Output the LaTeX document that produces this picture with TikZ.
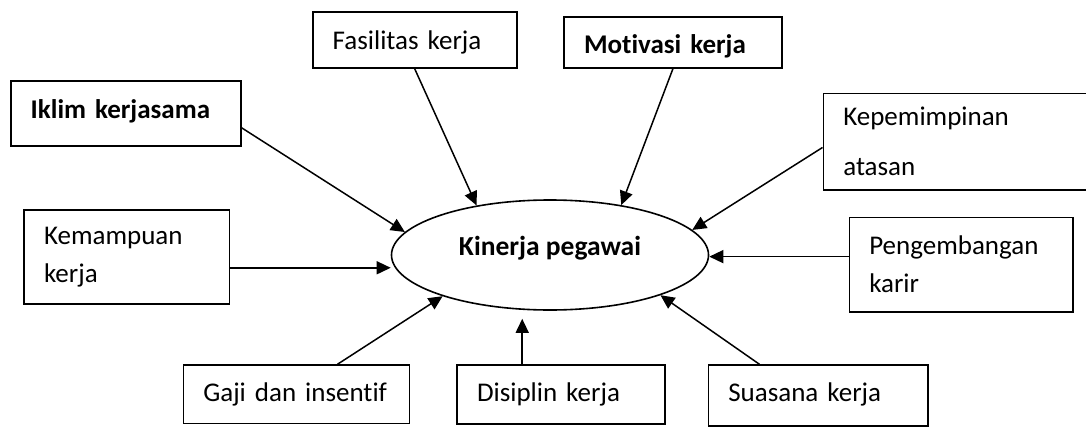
\documentclass[tikz,border=0pt]{standalone}
\usepackage{fontspec}
\setmainfont{Carlito}[Ligatures=NoCommon]
\usetikzlibrary{arrows.meta, shapes.geometric}

\begin{document}
\begin{tikzpicture}[
    x=1pt, y=-1pt,
    >={Triangle[length=14pt, width=13pt]},
    box/.style={
        draw, line width=1.6pt, inner xsep=20pt, inner ysep=0pt,
        align=left, font=\fontsize{27}{38}\selectfont
    },
    onebox/.style={box, text height=20pt, text depth=5pt},
    goal/.style={
        draw, ellipse, line width=1.6pt, inner sep=0pt,
        minimum width=317pt, minimum height=110pt,
        font=\fontsize{27.5}{30}\selectfont\bfseries,
        text height=6pt, text depth=6pt
    },
    link/.style={->, line width=1.5pt},
]
\useasboundingbox (0,0) rectangle (1086,428);

% ============================================
% Centre
% ============================================
\node[goal] (kinerja) at (550,255) {Kinerja pegawai};

% ============================================
% Factors (top row and sides)
% ============================================
\node[onebox, text height=25pt, minimum width=204pt, minimum height=56pt, text width=164pt] (fasilitas) at (414.7,40) {Fasilitas kerja};
\node[onebox, text height=26pt, minimum width=217.7pt, minimum height=51pt, text width=177.7pt] (motivasi) at (672.9,42.5) {\textbf{Motivasi kerja}};
\node[onebox, text height=14pt, minimum width=230pt, minimum height=65pt, text width=190pt] (iklim) at (125.7,113.5) {\textbf{Iklim kerjasama}};
\node[box, minimum width=205.3pt, minimum height=93.7pt, text width=165.3pt] (kemampuan) at (126.7,256.9) {Kemampuan\\kerja};
\node[box, font=\fontsize{27}{50}\selectfont, minimum width=330pt, minimum height=96.7pt, text width=290pt] (kepemimpinan) at (988.3,141.7) {Kepemimpinan\\atasan};
\node[box, minimum width=223.4pt, minimum height=94.4pt, text width=183.4pt] (pengembangan) at (961,264.5) {Pengembangan\\karir};

% ============================================
% Factors (bottom row)
% ============================================
\node[onebox, minimum width=226pt, minimum height=58.3pt, text width=186pt] (gaji) at (296.3,394.2) {Gaji dan insentif};
\node[onebox, text height=18pt, minimum width=208pt, minimum height=59pt, text width=168pt] (disiplin) at (561,394.5) {Disiplin kerja};
\node[onebox, text height=18pt, minimum width=219.4pt, minimum height=60.7pt, text width=179.4pt] (suasana) at (818,395.4) {Suasana kerja};

% ============================================
% Connections
% ============================================
\draw[link] (fasilitas.south) -- (kinerja.146);
\draw[link] (motivasi.south) -- (kinerja.35);
\draw[link] (iklim.-7) -- (kinerja.171);
\draw[link] (kemampuan.-6) -- (kemampuan.-6 -| kinerja.west);
\draw[link] (kepemimpinan.182) -- (kinerja.10);
\draw[link] (pengembangan.176) -- (pengembangan.176 -| kinerja.east);
\draw[link] (gaji.36) -- (kinerja.201);
\draw[link, shorten >=8pt] (disiplin.142) -- (disiplin.142 |- kinerja.south);
\draw[link] (suasana.152) -- (kinerja.-20);

\end{tikzpicture}
\end{document}
